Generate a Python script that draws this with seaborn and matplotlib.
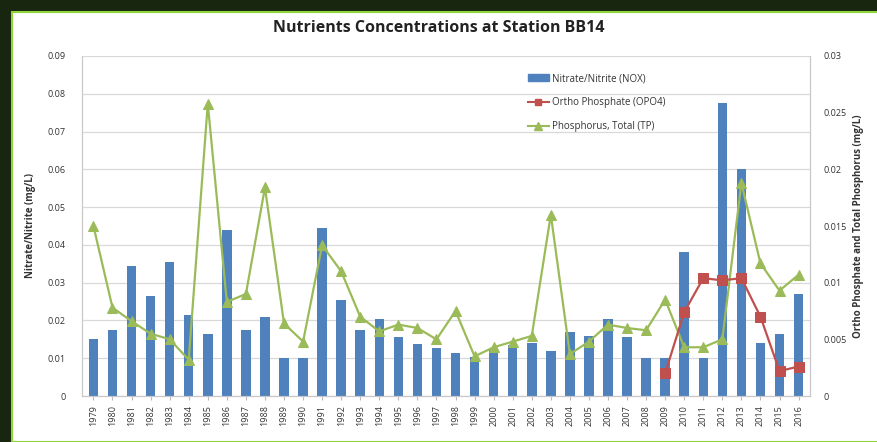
import numpy as np
import pandas as pd
import seaborn as sns
import matplotlib.pyplot as plt
from matplotlib.patches import Rectangle, Patch
from matplotlib.lines import Line2D
from matplotlib.ticker import FuncFormatter, MultipleLocator

years = list(range(1979, 2017))
nox = [0.015, 0.0175, 0.0345, 0.0265, 0.0355, 0.0215, 0.0165, 0.044, 0.0175, 0.021,
       0.010, 0.010, 0.0445, 0.0255, 0.0175, 0.0205, 0.0155, 0.0138, 0.0128, 0.0115,
       0.0102, 0.0125, 0.0135, 0.014, 0.012, 0.017, 0.0158, 0.0205, 0.0155, 0.010,
       0.010, 0.038, 0.010, 0.0775, 0.060, 0.014, 0.0165, 0.027]
tp = [0.015, 0.0078, 0.0066, 0.0055, 0.005, 0.0032, 0.0258, 0.0083, 0.009, 0.0184,
      0.0064, 0.0048, 0.0133, 0.011, 0.007, 0.0057, 0.0063, 0.006, 0.005, 0.0075,
      0.0035, 0.0043, 0.0048, 0.0053, 0.016, 0.0037, 0.0048, 0.0063, 0.006, 0.0058,
      0.0085, 0.0043, 0.0043, 0.005, 0.0188, 0.0117, 0.0093, 0.0107]
opo4_years = [2009, 2010, 2011, 2012, 2013, 2014, 2015, 2016]
opo4 = [0.002, 0.0074, 0.0104, 0.0102, 0.0104, 0.007, 0.0022, 0.0026]

blue = '#4F81BD'
red = '#C0504D'
green = '#9BBB59'
text_col = '#333333'

plt.rcParams['font.family'] = ['Open Sans', 'DejaVu Sans']

df = pd.DataFrame({'year': [str(y) for y in years], 'pos': np.arange(len(years)),
                   'nox': nox, 'tp': tp})
dfo = pd.DataFrame({'pos': [years.index(y) for y in opo4_years], 'opo4': opo4})

fig = plt.figure(figsize=(8.77, 4.42), dpi=100)
fig.patch.set_facecolor('#18260f')
fig.patches.append(Rectangle((12 / 877, 0), 1, 1 - 12 / 442, transform=fig.transFigure,
                             facecolor='white', edgecolor='#8fd43a', linewidth=1.5,
                             zorder=-5))

ax = fig.add_axes([82 / 877, 1 - 396 / 442, (810 - 82) / 877, (396 - 56) / 442])
sns.barplot(data=df, x='year', y='nox', color=blue, width=0.5, saturation=1,
            ax=ax, zorder=2)
ax.set_ylim(0, 0.09)
ax.yaxis.set_major_locator(MultipleLocator(0.01))
ax.yaxis.set_major_formatter(FuncFormatter(lambda v, p: '%g' % round(v, 3)))
ax.grid(axis='y', color='#d9d9d9', linewidth=0.9, zorder=0)
ax.set_axisbelow(True)
ax.set_xlim(-0.6, len(years) - 0.4)
ax.set_xlabel('')
ax.set_ylabel('Nitrate/Nitrite (mg/L)', fontsize=7, fontweight='bold', color=text_col,
              labelpad=8)
ax.tick_params(axis='x', labelrotation=90, labelsize=6.5, length=3, color='#bbbbbb',
               labelcolor=text_col)
ax.tick_params(axis='y', labelsize=6.5, length=0, pad=12, labelcolor=text_col)
ax.spines['top'].set_visible(False)
for s in ['left', 'right', 'bottom']:
    ax.spines[s].set_color('#c8c8c8')

ax2 = ax.twinx()
sns.lineplot(data=df, x='pos', y='tp', color=green, marker='^', markersize=7,
             markeredgecolor=green, linewidth=1.6, ax=ax2, zorder=3)
sns.lineplot(data=dfo, x='pos', y='opo4', color=red, marker='s', markersize=6.5,
             markeredgecolor=red, linewidth=1.6, ax=ax2, zorder=4)
ax2.set_ylim(0, 0.03)
ax2.set_xlim(-0.6, len(years) - 0.4)
ax2.yaxis.set_major_locator(MultipleLocator(0.005))
ax2.yaxis.set_major_formatter(FuncFormatter(lambda v, p: '%g' % round(v, 4)))
ax2.set_ylabel('Ortho Phosphate and Total Phosphorus (mg/L)', fontsize=7,
               fontweight='bold', color=text_col)
ax2.tick_params(axis='y', labelsize=6.5, length=0, pad=10, labelcolor=text_col)
ax2.set_xlabel('')
ax2.spines['top'].set_visible(False)
for s in ['left', 'right', 'bottom']:
    ax2.spines[s].set_color('#c8c8c8')

handles = [Patch(facecolor=blue, edgecolor=blue),
           Line2D([], [], color=red, marker='s', markersize=5, linewidth=1.5),
           Line2D([], [], color=green, marker='^', markersize=5.5, linewidth=1.5)]
labels = ['Nitrate/Nitrite (NOX)', 'Ortho Phosphate (OPO4)', 'Phosphorus, Total (TP)']
leg = ax2.legend(handles, labels, loc='upper left', bbox_to_anchor=(0.6, 0.975),
                 frameon=False, fontsize=7, handlelength=2.2, labelspacing=1.35,
                 handletextpad=0.3)
for t in leg.get_texts():
    t.set_color(text_col)

fig.text(0.5, 1 - 28 / 442, 'Nutrients Concentrations at Station BB14',
         ha='center', va='center', fontsize=11.5, fontweight='bold', color='#222222')

fig.savefig('out.png', dpi=100, facecolor=fig.get_facecolor())
